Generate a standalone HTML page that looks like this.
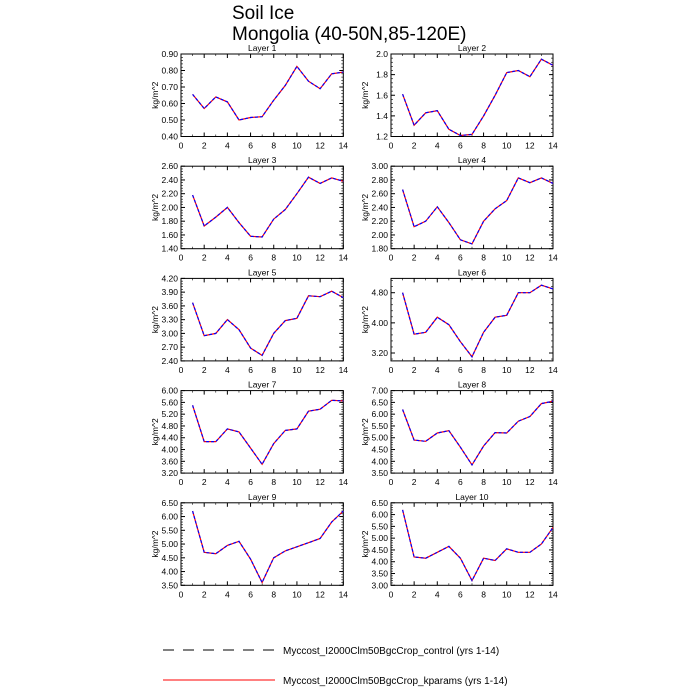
<!DOCTYPE html>
<html><head><meta charset="utf-8"><style>body{margin:0;background:#fff}svg{display:block}</style></head>
<body><svg id="s" width="700" height="700" xmlns="http://www.w3.org/2000/svg" font-family="Liberation Sans, sans-serif">
<text x="232" y="19" font-size="19">Soil Ice</text>
<text x="232" y="40" font-size="19">Mongolia (40-50N,85-120E)</text>
<line x1="163" y1="650" x2="275" y2="650" stroke="#000" stroke-width="1" stroke-dasharray="11,9"/>
<text x="283" y="654" font-size="10">Myccost_I2000Clm50BgcCrop_control (yrs 1-14)</text>
<line x1="163" y1="680" x2="275" y2="680" stroke="#f00" stroke-width="1"/>
<text x="283" y="684" font-size="10">Myccost_I2000Clm50BgcCrop_kparams (yrs 1-14)</text>
</svg>
<script>
const P=[
[0.4,0.9,[0.4,0.5,0.6,0.7,0.8,0.9],2,[0.655,0.57,0.64,0.61,0.50,0.515,0.52,0.62,0.71,0.825,0.735,0.69,0.78,0.79]],
[1.2,2.0,[1.2,1.4,1.6,1.8,2.0],1,[1.61,1.31,1.43,1.45,1.27,1.21,1.22,1.40,1.6,1.82,1.84,1.78,1.95,1.89]],
[1.4,2.6,[1.4,1.6,1.8,2.0,2.2,2.4,2.6],2,[2.18,1.73,1.86,2.0,1.78,1.58,1.57,1.83,1.97,2.2,2.44,2.35,2.43,2.38]],
[1.8,3.0,[1.8,2.0,2.2,2.4,2.6,2.8,3.0],2,[2.66,2.12,2.2,2.41,2.18,1.93,1.87,2.2,2.38,2.5,2.83,2.76,2.83,2.75]],
[2.4,4.2,[2.4,2.7,3.0,3.3,3.6,3.9,4.2],2,[3.67,2.95,3.0,3.3,3.08,2.68,2.52,3.0,3.28,3.33,3.82,3.8,3.92,3.78]],
[2.99,5.18,[3.2,4.0,4.8],2,[4.8,3.7,3.75,4.15,3.95,3.5,3.1,3.75,4.15,4.2,4.8,4.8,5.0,4.9]],
[3.2,6.0,[3.2,3.6,4.0,4.4,4.8,5.2,5.6,6.0],2,[5.5,4.27,4.27,4.7,4.6,4.05,3.5,4.2,4.65,4.7,5.3,5.37,5.67,5.65]],
[3.5,7.0,[3.5,4.0,4.5,5.0,5.5,6.0,6.5,7.0],2,[6.2,4.9,4.85,5.2,5.3,4.6,3.85,4.65,5.22,5.2,5.7,5.9,6.45,6.55]],
[3.5,6.5,[3.5,4.0,4.5,5.0,5.5,6.0,6.5],2,[6.2,4.7,4.65,4.95,5.1,4.45,3.6,4.5,4.75,4.9,5.05,5.2,5.8,6.2]],
[3.0,6.5,[3.0,3.5,4.0,4.5,5.0,5.5,6.0,6.5],2,[6.2,4.2,4.15,4.4,4.65,4.15,3.2,4.15,4.05,4.55,4.4,4.4,4.75,5.45]]];
let h='';
P.forEach((p,i)=>{
 const col=i%2,row=Math.floor(i/2);
 const L=col?391:181,R=col?553:343.3,T=54+row*112.2,B=T+82.5,W=R-L,H=B-T;
 const [a,b,ticks,dp,d]=p;
 const X=x=>L+x/14*W,Y=v=>B-(v-a)/(b-a)*H;
 h+=`<text x="${(L+R)/2}" y="${T-3}" font-size="8.5" text-anchor="middle">Layer ${i+1}</text>`;
 h+=`<rect x="${L}" y="${T}" width="${W}" height="${H}" fill="none" stroke="#000" stroke-width="1"/>`;
 for(let x=0;x<=14;x+=2){h+=`<line x1="${X(x)}" y1="${B}" x2="${X(x)}" y2="${B-4}" stroke="#000"/><line x1="${X(x)}" y1="${T}" x2="${X(x)}" y2="${T+4}" stroke="#000"/><text x="${X(x)}" y="${B+12}" font-size="8.5" text-anchor="middle">${x}</text>`;}
 for(let x=1;x<14;x+=2){h+=`<line x1="${X(x)}" y1="${B}" x2="${X(x)}" y2="${B-2}" stroke="#000" stroke-width=".6"/><line x1="${X(x)}" y1="${T}" x2="${X(x)}" y2="${T+2}" stroke="#000" stroke-width=".6"/>`;}
 const st=ticks.length>1?ticks[1]-ticks[0]:0.5;
 for(let v=ticks[0]-st;v<=b+1e-9;v+=st/5){if(v<a-1e-9)continue;const y=Y(v);h+=`<line x1="${L}" y1="${y}" x2="${L+2}" y2="${y}" stroke="#000" stroke-width=".6"/><line x1="${R}" y1="${y}" x2="${R-2}" y2="${y}" stroke="#000" stroke-width=".6"/>`;}
 ticks.forEach(v=>{const y=Y(v);h+=`<line x1="${L}" y1="${y}" x2="${L+4}" y2="${y}" stroke="#000"/><line x1="${R}" y1="${y}" x2="${R-4}" y2="${y}" stroke="#000"/><text x="${L-3}" y="${y+3}" font-size="8.5" text-anchor="end">${v.toFixed(dp)}</text>`;});
 h+=`<text transform="translate(${L-23},${(T+B)/2}) rotate(-90)" font-size="8.5" text-anchor="middle">kg/m^2</text>`;
 const pts=d.map((v,k)=>X(k+1).toFixed(1)+','+Y(v).toFixed(1)).join(' ');
 h+=`<polyline points="${pts}" fill="none" stroke="#f00" stroke-width="1.2"/><polyline points="${pts}" fill="none" stroke="#00f" stroke-width="1.2" stroke-dasharray="3,2"/>`;
});
document.getElementById('s').insertAdjacentHTML('beforeend',h);
</script></body></html>
